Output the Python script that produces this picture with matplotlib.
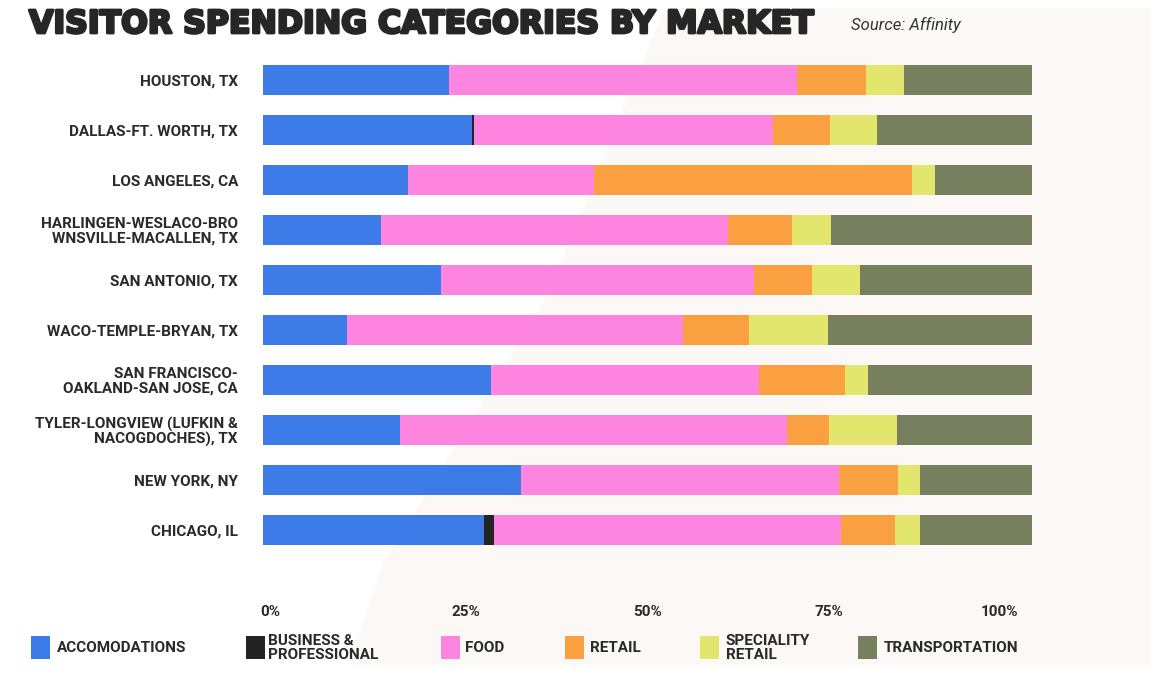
import matplotlib
matplotlib.use("Agg")
import matplotlib.pyplot as plt
from matplotlib.patches import Polygon, Rectangle
import matplotlib.patheffects as pe
import numpy as np

plt.rcParams['font.family'] = ['Roboto', 'DejaVu Sans']

markets = [
    "HOUSTON, TX",
    "DALLAS-FT. WORTH, TX",
    "LOS ANGELES, CA",
    "HARLINGEN-WESLACO-BRO\nWNSVILLE-MACALLEN, TX",
    "SAN ANTONIO, TX",
    "WACO-TEMPLE-BRYAN, TX",
    "SAN FRANCISCO-\nOAKLAND-SAN JOSE, CA",
    "TYLER-LONGVIEW (LUFKIN &\nNACOGDOCHES), TX",
    "NEW YORK, NY",
    "CHICAGO, IL",
]

accomodations = [24.2, 27.2, 18.8, 15.4, 23.1, 10.9, 29.7, 17.8, 33.5, 28.7]
business      = [0.0, 0.2, 0.0, 0.0, 0.0, 0.0, 0.0, 0.0, 0.0, 1.3]
food          = [45.2, 38.9, 24.2, 45.1, 40.7, 43.7, 34.8, 50.4, 41.4, 45.1]
retail        = [9.0, 7.4, 41.4, 8.3, 7.6, 8.6, 11.2, 5.4, 7.7, 7.1]
speciality    = [5.0, 6.1, 3.0, 5.1, 6.2, 10.3, 3.0, 8.8, 2.8, 3.3]
transportation= [16.6, 20.2, 12.6, 26.1, 22.4, 26.5, 21.3, 17.6, 14.6, 14.5]

series_names = ["ACCOMODATIONS", "BUSINESS &\nPROFESSIONAL", "FOOD", "RETAIL",
                "SPECIALITY\nRETAIL", "TRANSPORTATION"]
series_vals = [accomodations, business, food, retail, speciality, transportation]
colors = ["#3d7be8", "#232323", "#fd84df", "#fba040", "#e2e66c", "#767f5e"]

tick_pos = [1, 26.4, 50, 73.6, 95.8]
tick_labels = ["0%", "25%", "50%", "75%", "100%"]

W, H = 1168, 681
fig = plt.figure(figsize=(W / 100, H / 100), dpi=100)
fig.patch.set_facecolor("white")

# background axes with decorative beige shape
bgax = fig.add_axes([0, 0, 1, 1], zorder=-10)
bgax.set_xlim(0, W)
bgax.set_ylim(H, 0)
bgax.axis("off")
bgax.add_patch(Polygon([(665, 8), (1150, 8), (1150, 665), (350, 665), (385, 560), (545, 300)],
                       closed=True, facecolor="#fbf8f5", edgecolor="none"))

ax = fig.add_axes([263 / W, 1 - 555 / H, (1032 - 263) / W, (555 - 55) / H], zorder=1)
ax.set_facecolor("none")

y = np.arange(len(markets))
left = np.zeros(len(markets))
for name, vals, col in zip(series_names, series_vals, colors):
    v = np.array(vals)
    ax.barh(y, v, left=left, height=0.6, color=col, edgecolor="none", label=name)
    left += v

ax.set_xlim(0, 100)
ax.set_ylim(len(markets) - 0.5, -0.5)
ax.set_yticks(y)
ax.set_yticklabels(markets, fontsize=11, fontweight="bold", color="#2a2a2a",
                   linespacing=1.05)
ax.tick_params(axis="y", length=0, pad=18)
ax.set_xticks(tick_pos)
ax.set_xticklabels(tick_labels, fontsize=11, fontweight="bold", color="#2a2a2a")
ax.tick_params(axis="x", length=0, pad=36)
for s in ax.spines.values():
    s.set_visible(False)

fig.text(29 / W, 1 - 33 / H, "VISITOR SPENDING CATEGORIES BY MARKET",
         family=["DejaVu Sans"], fontsize=22.7, fontweight="bold", color="#262626",
         va="baseline", ha="left",
         path_effects=[pe.withStroke(linewidth=2.0, foreground="#262626")])
fig.text(851 / W, 1 - 25 / H, "Source: Affinity", fontsize=12, style="italic",
         color="#333333", va="center", ha="left")

# legend
leg_patch_x = [31, 246, 441, 565, 700, 858]
leg_text_x = [57, 268, 465, 590, 726, 884]
for px, tx, name, col in zip(leg_patch_x, leg_text_x, series_names, colors):
    bgax.add_patch(Rectangle((px, 636), 19, 23, facecolor=col, edgecolor="none"))
    fig.text(tx / W, 1 - 648 / H, name, fontsize=11, fontweight="bold",
             color="#2a2a2a", va="center", ha="left", linespacing=1.0)

fig.savefig("out.png", dpi=100, facecolor="white")
